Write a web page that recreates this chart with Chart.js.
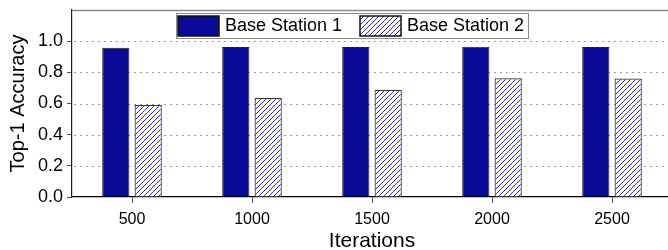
<!DOCTYPE html>
<html><head><meta charset="utf-8">
<script src="https://cdn.jsdelivr.net/npm/chart.js@4"></script>
<style>html,body{margin:0;padding:0;overflow:hidden;background:#fff;width:668px;height:250px}
canvas{display:block}</style></head>
<body><canvas id="c" width="672" height="250"></canvas>
<script>
const categories = ['500', '1000', '1500', '2000', '2500'];
const seriesNames = ['Base Station 1', 'Base Station 2'];
const station1 = [0.957, 0.962, 0.962, 0.964, 0.962];
const station2 = [0.590, 0.635, 0.688, 0.762, 0.760];
const xTitle = 'Iterations';
const yTitle = 'Top-1 Accuracy';

const FONT = "'Liberation Sans', Arial, Helvetica, sans-serif";
const NAVY = '#0a0a98';

const canvas = document.getElementById('c');
const ctx0 = canvas.getContext('2d');
function makeHatch() {
  const s = 5;
  const c = document.createElement('canvas');
  c.width = s; c.height = s;
  const g = c.getContext('2d');
  g.fillStyle = '#ffffff'; g.fillRect(0, 0, s, s);
  g.strokeStyle = '#2a2ad2'; g.lineWidth = 1;
  g.beginPath();
  g.moveTo(-1, s + 1); g.lineTo(s + 1, -1);
  g.moveTo(-1, 1); g.lineTo(1, -1);
  g.moveTo(s - 1, s + 1); g.lineTo(s + 1, s - 1);
  g.stroke();
  return ctx0.createPattern(c, 'repeat');
}
const hatch = makeHatch();

const gridPlugin = {
  id: 'gridPlugin',
  beforeDatasetsDraw(chart) {
    const { ctx, chartArea: a, scales: { y } } = chart;
    ctx.save();
    ctx.strokeStyle = '#9a9a9a';
    ctx.lineWidth = 1;
    ctx.setLineDash([2, 4]);
    y.ticks.forEach(t => {
      if (t.value <= 0.001 || t.value > 1.1) return;
      const py = Math.round(y.getPixelForValue(t.value)) + 0.5;
      ctx.beginPath(); ctx.moveTo(a.left + 2, py); ctx.lineTo(a.right, py); ctx.stroke();
    });
    ctx.setLineDash([]);
    ctx.strokeStyle = '#8a8a8a';
    ctx.lineWidth = 1.5;
    ctx.beginPath(); ctx.moveTo(a.left, a.top + 0.5); ctx.lineTo(a.right, a.top + 0.5); ctx.stroke();
    ctx.restore();
  }
};

const legendPlugin = {
  id: 'boxLegend',
  afterDraw(chart) {
    const { ctx } = chart;
    const ds = chart.data.datasets;
    ctx.save();
    const bx = 176, by = 13, bw = 352, bh = 25;
    ctx.fillStyle = '#fff';
    ctx.fillRect(bx, by, bw, bh);
    ctx.strokeStyle = '#8a8a8a'; ctx.lineWidth = 1;
    ctx.strokeRect(bx + 0.5, by + 0.5, bw, bh);
    const items = [{ x: 178, tx: 225 }, { x: 360, tx: 407 }];
    ctx.font = '18px ' + FONT;
    ctx.textBaseline = 'middle';
    items.forEach((it, i) => {
      ctx.fillStyle = ds[i].backgroundColor;
      ctx.fillRect(it.x, 16, 41, 20);
      ctx.strokeStyle = '#111'; ctx.lineWidth = 1.5;
      ctx.strokeRect(it.x, 16, 41, 20);
      ctx.fillStyle = '#000';
      ctx.fillText(ds[i].label, it.tx, 26.5);
    });
    ctx.restore();
  }
};

new Chart(canvas, {
  type: 'bar',
  data: {
    labels: categories,
    datasets: [
      { label: seriesNames[0], data: station1, backgroundColor: NAVY, borderColor: '#222', borderWidth: 1 },
      { label: seriesNames[1], data: station2, backgroundColor: hatch, borderColor: '#333', borderWidth: 1.2 }
    ]
  },
  options: {
    responsive: false,
    animation: false,
    devicePixelRatio: 1,
    layout: { padding: { top: 10, left: 0, right: 0, bottom: 0 } },
    categoryPercentage: 0.54,
    barPercentage: 0.84,
    plugins: { legend: { display: false }, tooltip: { enabled: false } },
    scales: {
      x: {
        afterFit(s) { s.height = 53; s.paddingLeft = 0; s.paddingRight = 0; s.paddingTop = 0; s.paddingBottom = 0; },
        grid: { offset: false, drawOnChartArea: false, drawTicks: true, tickLength: 6, tickColor: '#555', tickWidth: 1 },
        border: { color: '#000', width: 1.2 },
        ticks: { color: '#000', font: { family: FONT, size: 16 }, padding: 7 },
        title: { display: true, text: xTitle, color: '#000', font: { family: FONT, size: 21, lineHeight: 1 }, padding: { top: 0, bottom: -1.5 } }
      },
      y: {
        min: 0, max: 1.2,
        afterFit(s) { s.width = 72; s.paddingTop = 0; s.paddingBottom = 0; s.paddingLeft = 0; s.paddingRight = 0; },
        grid: { drawOnChartArea: false, drawTicks: true, tickLength: 5, tickWidth: 1,
          tickColor: c => (c.tick && c.tick.value > 1.1) ? 'rgba(0,0,0,0)' : '#555' },
        border: { color: '#222', width: 1.2 },
        ticks: { stepSize: 0.2, color: '#000', font: { family: FONT, size: 18 }, padding: 4,
          callback: v => v > 1.1 ? '' : v.toFixed(1) },
        title: { display: true, text: yTitle, color: '#000', font: { family: FONT, size: 20 }, padding: { top: 6, bottom: 0 } }
      }
    }
  },
  plugins: [gridPlugin, legendPlugin]
});
</script>
</body></html>
